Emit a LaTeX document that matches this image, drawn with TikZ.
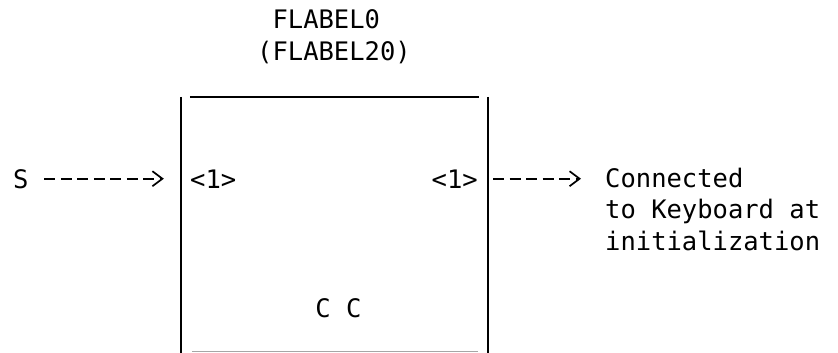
\documentclass[tikz,border=0pt]{standalone}
\usepackage{fontspec}
\setmonofont{DejaVu Sans Mono}
\usetikzlibrary{arrows.meta, positioning}

\begin{document}
\begin{tikzpicture}[
  x=1pt, y=-1pt,
  txt/.style={font=\ttfamily\fontsize{25.5}{31.5}\selectfont, inner sep=0pt},
  side/.style={line width=1.8pt},
  dasharr/.style={line width=1.7pt, dash pattern=on 11pt off 5.5pt,
                  -{Straight Barb[length=10pt, width=15pt, line width=1.7pt, sep=#1] .}},
]
\useasboundingbox (0,0) rectangle (838,353);

\node[txt, anchor=north west, align=left] (title) at (257,9.4)
  {\hphantom{(}FLABEL0\\(FLABEL20)};

\node[minimum width=307pt, minimum height=256pt, inner sep=0pt] (blk) at (334.5,225) {};

\node[txt, anchor=base west] (S)   at (13,188)  {S};
\node[txt, anchor=base west] (inL) at (190,188) {<1>};
\node[txt, anchor=base east] (inR) at (478,188) {<1>};
\node[txt] (cc) at (338.5,308) {C C};
\node[txt, anchor=north west, align=left] (note) at (605,167.6)
  {Connected\\to Keyboard at\\initialization};

% sides of the block
\draw[side] (blk.north west) -- (blk.south west);
\draw[side] (blk.north east) -- (blk.south east);
\draw[line width=1.5pt] ([xshift=9pt]blk.north west) -- ([xshift=-9pt]blk.north east);
\draw[line width=1.5pt, gray!70] ([xshift=11pt, yshift=1.5pt]blk.south west)
  -- ([xshift=-10pt, yshift=1.5pt]blk.south east);

\draw[dasharr=3pt, shorten <=15.6pt, shorten >=14pt] (S.east) -- (blk.west |- S.east);
\draw[dasharr=7pt, shorten <=5pt, shorten >=17pt] (blk.east |- inR.east) -- (note.north west |- inR.east);

\end{tikzpicture}
\end{document}
